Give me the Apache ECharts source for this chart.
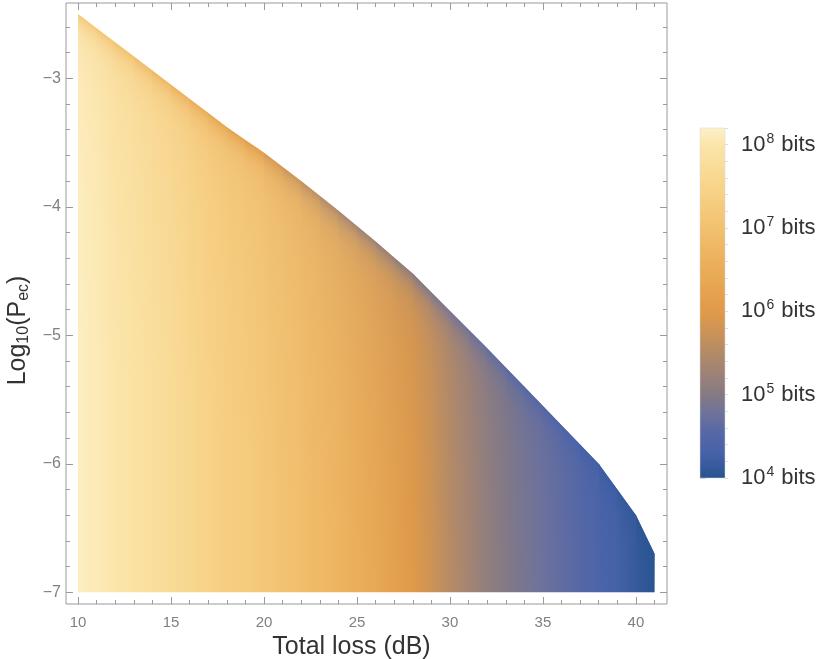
<!DOCTYPE html>
<html>
<head>
<meta charset="utf-8">
<script src="https://cdn.jsdelivr.net/npm/echarts@6/dist/echarts.min.js"></script>
<style>
html, body { margin: 0; padding: 0; background: #fff; }
#chart { width: 834px; height: 659px; }
</style>
</head>
<body>
<div id="chart"></div>
<script>
// upper boundary of the feasible region: total loss (dB) -> log10(Pec)
var edgeLoss = [10, 12, 14, 16, 18, 20, 22, 24, 26, 28, 30, 32, 34, 36, 38, 40, 41];
var edgeLogP = [-2.50, -2.72, -2.94, -3.16, -3.38, -3.58, -3.80, -4.03, -4.27, -4.52, -4.81, -5.10, -5.40, -5.70, -6.00, -6.40, -6.70];
var floorLogP = -7;

// key length, log10(bits), read along the loss axis
var lossGrid = [10, 11, 12, 13, 14, 15, 16, 17, 18, 19, 20, 21, 22, 23, 24, 25, 26, 27, 28, 29, 30, 31, 32, 33, 34, 35, 36, 37, 38, 39, 40, 41];
// at log10(Pec) = -7
var bitsFloor = [8.15, 8.08, 8.0, 7.9, 7.8, 7.7, 7.58, 7.46, 7.35, 7.25, 7.15, 7.03, 6.92, 6.8, 6.68, 6.55, 6.4, 6.2, 6.0, 5.8, 5.55, 5.35, 5.15, 5.0, 4.88, 4.78, 4.66, 4.55, 4.42, 4.3, 4.15, 4.02];
// just under the upper boundary
var bitsEdge = [7.2, 7.1, 7.0, 6.9, 6.78, 6.65, 6.5, 6.36, 6.22, 6.08, 5.94, 5.8, 5.65, 5.5, 5.35, 5.25, 5.15, 5.05, 4.95, 4.87, 4.8, 4.72, 4.65, 4.58, 4.5, 4.43, 4.36, 4.3, 4.22, 4.15, 4.08, 4.0];

// colour bar (log10 bits -> colour)
var barLog = [4.0, 4.3, 4.55, 4.8, 5.0, 5.25, 5.5, 5.75, 6.0, 6.5, 7.0, 7.5, 8.0, 8.2];
var barColor = ['#28538f', '#4762aa', '#5668a6', '#71739a', '#857a84', '#9d8276', '#b38a67', '#cb9357', '#e09a49', '#eaac58', '#f2c170', '#f8d48a', '#fbe5aa', '#fdf1c9'];
var barTicks = [4, 5, 6, 7, 8];

var xTicks = [10, 15, 20, 25, 30, 35, 40];
var yTicks = [-7, -6, -5, -4, -3];

var xMinor = [];
for (var i = 10; i <= 41; i++) xMinor.push(i);
var yMinor = [];
for (var k = 0; k <= 22; k++) yMinor.push(-7 + k * 0.2);
var barMinor = [];
for (var m = 0; m <= 21; m++) barMinor.push(4 + m * 0.2);

function bitsColor(v) {
  if (v <= barLog[0]) return barColor[0];
  for (var i = 1; i < barLog.length; i++) {
    if (v <= barLog[i]) {
      var t = (v - barLog[i - 1]) / (barLog[i] - barLog[i - 1]);
      return echarts.color.lerp(t, [barColor[i - 1], barColor[i]]);
    }
  }
  return barColor[barColor.length - 1];
}

var chart = echarts.init(document.getElementById('chart'));

// how strongly the boundary colour shows at a given pixel depth below the edge
function edgeWeight(d) {
  return 0.75 * Math.exp(-d / 10) + 0.2 * Math.exp(-d / 90);
}

function renderRegion(params, api) {
  var left = api.coord([lossGrid[0], floorLogP]);
  var right = api.coord([lossGrid[lossGrid.length - 1], floorLogP]);
  var yb = left[1];
  var edge = edgeLoss.map(function (l, k) { return api.coord([l, edgeLogP[k]]); });

  // y of the boundary polyline at pixel x
  function edgeY(px) {
    for (var k = 1; k < edge.length; k++) {
      if (px <= edge[k][0] + 1e-6) {
        var t = (px - edge[k - 1][0]) / (edge[k][0] - edge[k - 1][0]);
        return edge[k - 1][1] + t * (edge[k][1] - edge[k - 1][1]);
      }
    }
    return edge[edge.length - 1][1];
  }

  var stops = lossGrid.map(function (l, i) {
    var px = api.coord([l, floorLogP])[0];
    return { offset: (px - left[0]) / (right[0] - left[0]), color: bitsColor(bitsFloor[i]) };
  });
  var children = [];
  var basePts = [[left[0], yb]].concat(edge).concat([[right[0], yb]]);
  children.push({
    type: 'polygon', shape: { points: basePts },
    style: { fill: new echarts.graphic.LinearGradient(left[0], 0, right[0], 0, stops, true) }
  });

  // fade toward the boundary colour, one slice per loss step
  var depths = [0, 3, 6, 10, 15, 22, 32, 45, 65, 90, 130, 180, 260];
  for (var i = 0; i < lossGrid.length - 1; i++) {
    var xa = api.coord([lossGrid[i], floorLogP])[0];
    var xb = api.coord([lossGrid[i + 1], floorLogP])[0];
    var ra = i === 0 ? xa : Math.round(xa);
    var rb = i === lossGrid.length - 2 ? xb : Math.round(xb);
    var ta = [ra, edgeY(ra)];
    var tb = [rb, edgeY(rb)];
    var dx = tb[0] - ta[0], dy = tb[1] - ta[1];
    var len = Math.sqrt(dx * dx + dy * dy);
    var nx = -dy / len, ny = dx / len;
    var c = echarts.color.parse(bitsColor((bitsEdge[i] + bitsEdge[i + 1]) / 2));
    var dmax = depths[depths.length - 1];
    var gs = depths.map(function (d) {
      var a = d === dmax ? 0 : Math.min(1, edgeWeight(d));
      return { offset: d / dmax, color: 'rgba(' + c[0] + ',' + c[1] + ',' + c[2] + ',' + a.toFixed(3) + ')' };
    });
    children.push({
      type: 'polygon',
      shape: { points: [ta, tb, [rb, yb], [ra, yb]] },
      style: { fill: new echarts.graphic.LinearGradient(ta[0], ta[1], ta[0] + nx * dmax, ta[1] + ny * dmax, gs, true) }
    });
  }
  return { type: 'group', children: children };
}

function renderBar(params, api) {
  var top = api.coord([0, barLog[barLog.length - 1]]);
  var bottom = api.coord([1, barLog[0]]);
  var span = barLog[barLog.length - 1] - barLog[0];
  var stops = barLog.map(function (v, i) {
    return { offset: (barLog[barLog.length - 1] - v) / span, color: barColor[i] };
  });
  return {
    type: 'rect',
    shape: { x: top[0], y: top[1], width: bottom[0] - top[0], height: bottom[1] - top[1] },
    style: { fill: new echarts.graphic.LinearGradient(0, 0, 0, 1, stops), stroke: '#d8d8d8', lineWidth: 0.5 }
  };
}

var tickColor = '#9a9a9a';
var xRange = { min: 9.355, max: 41.67 };
var yRange = { min: -7.091, max: -2.414 };

function xAxisOf(pos, major, withLabel) {
  return {
    type: 'value', gridIndex: 0, position: pos, min: xRange.min, max: xRange.max,
    axisLine: { show: false },
    splitLine: { show: false },
    axisTick: { show: true, inside: true, length: major ? 7 : 4, customValues: major ? xTicks : xMinor, lineStyle: { color: tickColor } },
    axisLabel: withLabel ? { show: true, customValues: xTicks, color: '#808080', fontSize: 15, margin: 11, fontFamily: 'Liberation Sans' } : { show: false }
  };
}
function yAxisOf(pos, major, withLabel) {
  return {
    type: 'value', gridIndex: 0, position: pos, min: yRange.min, max: yRange.max,
    axisLine: { show: false },
    splitLine: { show: false },
    axisTick: { show: true, inside: true, length: major ? 7 : 4, customValues: major ? yTicks : yMinor, lineStyle: { color: tickColor } },
    axisLabel: withLabel ? {
      show: true, customValues: yTicks, color: '#808080', fontSize: 16, margin: 5, fontFamily: 'Liberation Sans',
      formatter: function (v) { return '\u2212' + Math.abs(v); }
    } : { show: false }
  };
}

var xMain = xAxisOf('bottom', true, true);
xMain.name = 'Total loss (dB)';
xMain.nameLocation = 'middle';
xMain.nameGap = 24;
xMain.nameTextStyle = { fontSize: 25, color: '#333', fontFamily: 'Liberation Sans', padding: [0, 30, 0, 0] };

var yMain = yAxisOf('left', true, true);
yMain.name = '{b|Log}{s|10}{b|(P}{s|ec}{b|)}';
yMain.nameLocation = 'middle';
yMain.nameGap = 27;
yMain.nameTextStyle = {
  padding: [0, 54, 0, 0],
  rich: {
    b: { fontSize: 25, color: '#333', fontFamily: 'Liberation Sans' },
    s: { fontSize: 16, color: '#333', fontFamily: 'Liberation Sans', padding: [12, 0, 0, 0] }
  }
};

var option = {
  animation: false,
  backgroundColor: '#fff',
  grid: [
    { left: 66, top: 3, width: 601, height: 601, outerBoundsMode: 'none', show: true, borderColor: '#9a9a9a', borderWidth: 1, backgroundColor: 'transparent' },
    { left: 700, top: 128, width: 25, height: 350, outerBoundsMode: 'none' }
  ],
  xAxis: [
    xMain,
    xAxisOf('bottom', false, false),
    xAxisOf('top', true, false),
    xAxisOf('top', false, false),
    { type: 'value', gridIndex: 1, min: 0, max: 1, show: false }
  ],
  yAxis: [
    yMain,
    yAxisOf('left', false, false),
    yAxisOf('right', true, false),
    yAxisOf('right', false, false),
    {
      type: 'value', gridIndex: 1, position: 'right', min: 4, max: 8.2,
      axisLine: { show: false }, splitLine: { show: false },
      axisTick: { show: true, length: 6, customValues: barTicks, lineStyle: { color: '#cfcfcf' } },
      axisLabel: {
        show: true, customValues: barTicks, margin: 16,
        formatter: function (v) { return '{b|10}{s|' + v + '}{b| bits}'; },
        rich: {
          b: { fontSize: 22, color: '#333', fontFamily: 'Liberation Sans' },
          s: { fontSize: 14, color: '#333', fontFamily: 'Liberation Sans', padding: [0, 1, 12, 1] }
        }
      }
    },
    {
      type: 'value', gridIndex: 1, position: 'right', min: 4, max: 8.2,
      axisLine: { show: false }, splitLine: { show: false }, axisLabel: { show: false },
      axisTick: { show: true, length: 3, customValues: barMinor, lineStyle: { color: '#dcdcdc' } }
    }
  ],
  series: [
    {
      type: 'custom', coordinateSystem: 'cartesian2d', xAxisIndex: 0, yAxisIndex: 0,
      data: [[lossGrid[0], floorLogP]],
      renderItem: renderRegion,
      silent: true
    },
    {
      type: 'custom', coordinateSystem: 'cartesian2d', xAxisIndex: 4, yAxisIndex: 4,
      data: [[0, barLog[0]]],
      renderItem: renderBar,
      silent: true
    }
  ]
};

chart.setOption(option);
</script>
</body>
</html>
